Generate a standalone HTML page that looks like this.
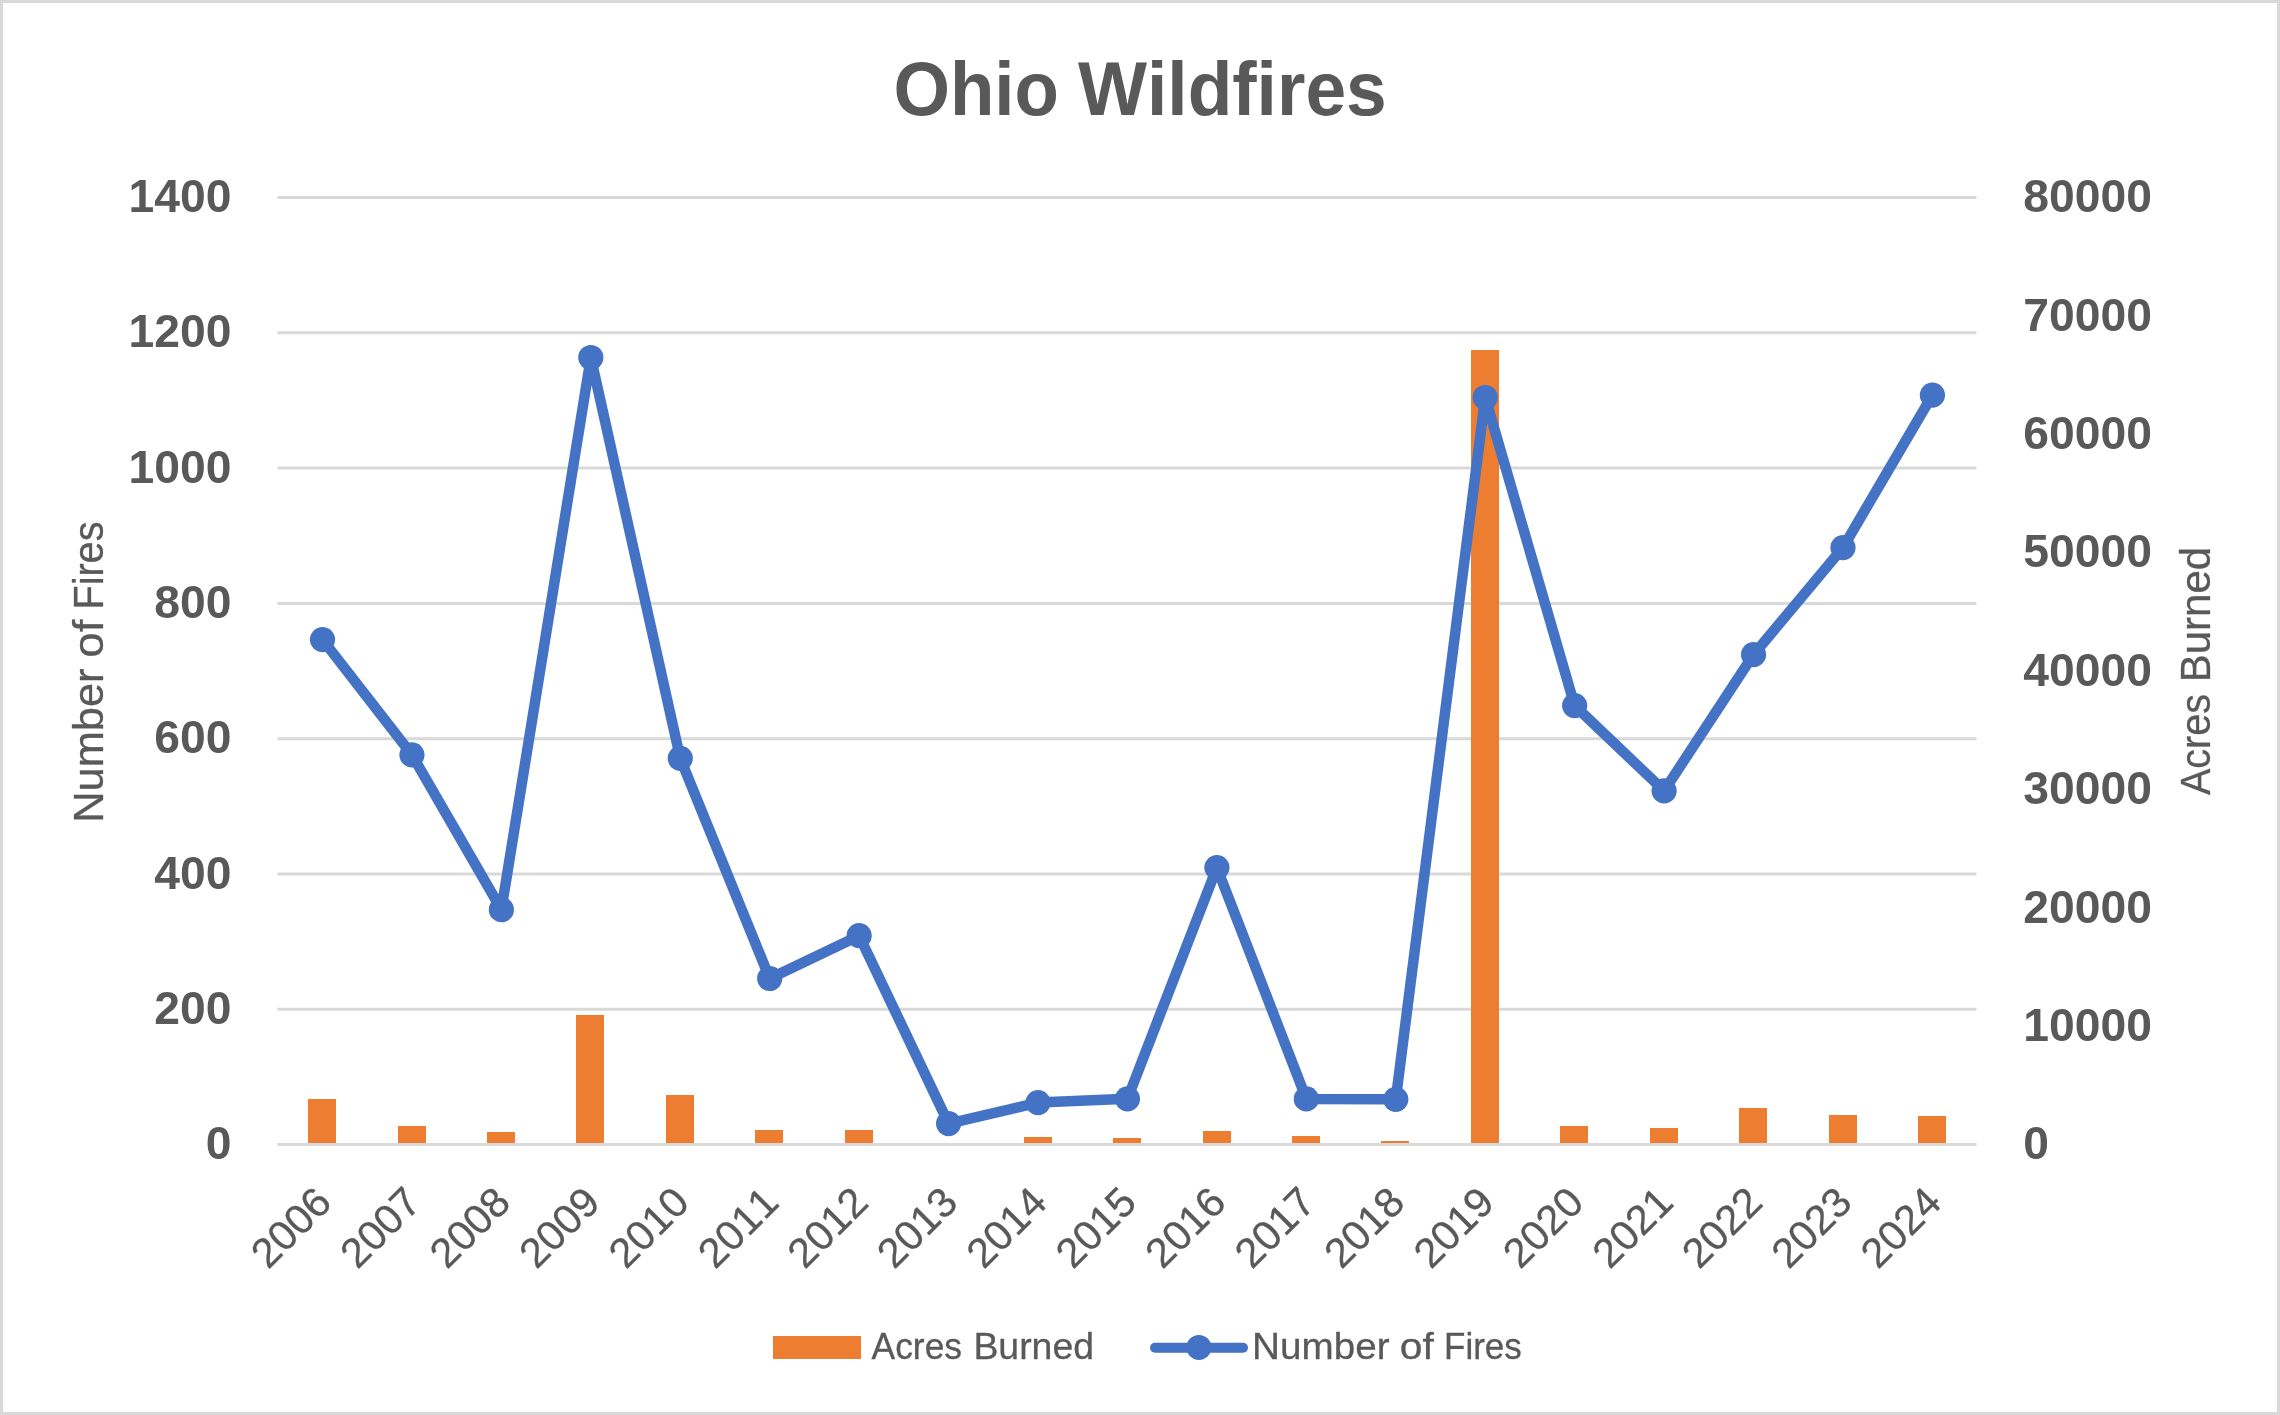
<!DOCTYPE html>
<html lang="en"><head><meta charset="utf-8"><title>Ohio Wildfires</title>
<style>
html,body{margin:0;padding:0;background:#fff;}
body{width:2280px;height:1415px;overflow:hidden;font-family:"Liberation Sans", sans-serif;}
svg{display:block;will-change:transform;}
text{font-family:"Liberation Sans", sans-serif;fill:#595959;font-kerning:none;}
.b{font-weight:bold;stroke:none;}
.r{stroke:#595959;stroke-width:0.3px;stroke-linejoin:round;}
</style></head><body>
<svg width="2280" height="1415" viewBox="0 0 2280 1415" role="img" aria-label="Ohio Wildfires combo chart">
<rect x="0" y="0" width="2280" height="1415" fill="#fff"/>
<rect x="1.5" y="1.5" width="2277" height="1412" fill="none" stroke="#D9D9D9" stroke-width="3"/>
<g stroke="#D9D9D9" stroke-width="3.0">
<line x1="277.5" y1="197.50" x2="1976.5" y2="197.50"/>
<line x1="277.5" y1="332.80" x2="1976.5" y2="332.80"/>
<line x1="277.5" y1="468.10" x2="1976.5" y2="468.10"/>
<line x1="277.5" y1="603.40" x2="1976.5" y2="603.40"/>
<line x1="277.5" y1="738.70" x2="1976.5" y2="738.70"/>
<line x1="277.5" y1="874.00" x2="1976.5" y2="874.00"/>
<line x1="277.5" y1="1009.30" x2="1976.5" y2="1009.30"/>
</g>
<g fill="#ED7D31" shape-rendering="crispEdges">
<rect x="308" y="1099" width="28" height="45.60"/>
<rect x="398" y="1126" width="28" height="18.60"/>
<rect x="487" y="1132" width="28" height="12.60"/>
<rect x="576" y="1015" width="28" height="129.60"/>
<rect x="666" y="1095" width="28" height="49.60"/>
<rect x="755" y="1130" width="28" height="14.60"/>
<rect x="845" y="1130" width="28" height="14.60"/>
<rect x="1024" y="1137" width="28" height="7.60"/>
<rect x="1113" y="1138" width="28" height="6.60"/>
<rect x="1203" y="1131" width="28" height="13.60"/>
<rect x="1292" y="1136" width="28" height="8.60"/>
<rect x="1381" y="1141" width="28" height="3.60"/>
<rect x="1471" y="350" width="28" height="794.60"/>
<rect x="1560" y="1126" width="28" height="18.60"/>
<rect x="1650" y="1128" width="28" height="16.60"/>
<rect x="1739" y="1108" width="28" height="36.60"/>
<rect x="1829" y="1115" width="28" height="29.60"/>
<rect x="1918" y="1116" width="28" height="28.60"/>
</g>
<line x1="277.5" y1="1144.60" x2="1976.5" y2="1144.60" stroke="#D9D9D9" stroke-width="3.0"/>
<polyline points="322.50,639.60 411.94,754.80 501.38,909.70 590.82,357.50 680.26,758.30 769.70,978.50 859.14,935.70 948.58,1123.60 1038.02,1102.60 1127.46,1098.80 1216.90,867.60 1306.34,1098.90 1395.78,1099.30 1485.22,397.50 1574.66,705.60 1664.10,790.80 1753.54,654.60 1842.98,547.60 1932.42,395.10" fill="none" stroke="#4472C4" stroke-width="10.5" stroke-linejoin="round" stroke-linecap="round"/>
<g fill="#4472C4">
<circle cx="322.50" cy="639.60" r="12.6"/>
<circle cx="411.94" cy="754.80" r="12.6"/>
<circle cx="501.38" cy="909.70" r="12.6"/>
<circle cx="590.82" cy="357.50" r="12.6"/>
<circle cx="680.26" cy="758.30" r="12.6"/>
<circle cx="769.70" cy="978.50" r="12.6"/>
<circle cx="859.14" cy="935.70" r="12.6"/>
<circle cx="948.58" cy="1123.60" r="12.6"/>
<circle cx="1038.02" cy="1102.60" r="12.6"/>
<circle cx="1127.46" cy="1098.80" r="12.6"/>
<circle cx="1216.90" cy="867.60" r="12.6"/>
<circle cx="1306.34" cy="1098.90" r="12.6"/>
<circle cx="1395.78" cy="1099.30" r="12.6"/>
<circle cx="1485.22" cy="397.50" r="12.6"/>
<circle cx="1574.66" cy="705.60" r="12.6"/>
<circle cx="1664.10" cy="790.80" r="12.6"/>
<circle cx="1753.54" cy="654.60" r="12.6"/>
<circle cx="1842.98" cy="547.60" r="12.6"/>
<circle cx="1932.42" cy="395.10" r="12.6"/>
</g>
<text class="b" x="893.42" y="114.5" font-size="76.0" textLength="165.42" lengthAdjust="spacingAndGlyphs">Ohio</text>
<text class="b" x="1078.03" y="114.5" font-size="76.0" textLength="308.67" lengthAdjust="spacingAndGlyphs">Wildfires</text>
<g class="b" font-size="45.5" text-anchor="end">
<text x="231.5" y="212.00" textLength="102.9" lengthAdjust="spacingAndGlyphs">1400</text>
<text x="231.5" y="347.30" textLength="102.9" lengthAdjust="spacingAndGlyphs">1200</text>
<text x="231.5" y="482.60" textLength="102.9" lengthAdjust="spacingAndGlyphs">1000</text>
<text x="231.5" y="617.90" textLength="77.18" lengthAdjust="spacingAndGlyphs">800</text>
<text x="231.5" y="753.20" textLength="77.18" lengthAdjust="spacingAndGlyphs">600</text>
<text x="231.5" y="888.50" textLength="77.18" lengthAdjust="spacingAndGlyphs">400</text>
<text x="231.5" y="1023.80" textLength="77.18" lengthAdjust="spacingAndGlyphs">200</text>
<text x="231.5" y="1159.10" textLength="25.73" lengthAdjust="spacingAndGlyphs">0</text>
</g>
<g class="b" font-size="45.5" text-anchor="start">
<text x="2023.3" y="212.30" textLength="128.6" lengthAdjust="spacingAndGlyphs">80000</text>
<text x="2023.3" y="330.69" textLength="128.6" lengthAdjust="spacingAndGlyphs">70000</text>
<text x="2023.3" y="449.08" textLength="128.6" lengthAdjust="spacingAndGlyphs">60000</text>
<text x="2023.3" y="567.46" textLength="128.6" lengthAdjust="spacingAndGlyphs">50000</text>
<text x="2023.3" y="685.85" textLength="128.6" lengthAdjust="spacingAndGlyphs">40000</text>
<text x="2023.3" y="804.24" textLength="128.6" lengthAdjust="spacingAndGlyphs">30000</text>
<text x="2023.3" y="922.62" textLength="128.6" lengthAdjust="spacingAndGlyphs">20000</text>
<text x="2023.3" y="1041.01" textLength="128.6" lengthAdjust="spacingAndGlyphs">10000</text>
<text x="2023.3" y="1159.40" textLength="25.72" lengthAdjust="spacingAndGlyphs">0</text>
</g>
<text class="r" transform="translate(103.3,819.20) rotate(-90)" x="-3.56" y="0" font-size="42.5" textLength="154.28" lengthAdjust="spacingAndGlyphs">Number</text>
<text class="r" transform="translate(103.3,655.90) rotate(-90)" x="-1.93" y="0" font-size="42.5" textLength="38.26" lengthAdjust="spacingAndGlyphs">of</text>
<text class="r" transform="translate(103.3,606.30) rotate(-90)" x="-3.25" y="0" font-size="42.5" textLength="87.98" lengthAdjust="spacingAndGlyphs">Fires</text>
<text class="r" transform="translate(2209.8,795.00) rotate(-90)" x="-0.08" y="0" font-size="42.5" textLength="101.11" lengthAdjust="spacingAndGlyphs">Acres</text>
<text class="r" transform="translate(2209.8,678.90) rotate(-90)" x="-3.45" y="0" font-size="42.5" textLength="135.56" lengthAdjust="spacingAndGlyphs">Burned</text>
<g class="r" font-size="41.5" text-anchor="end">
<text transform="translate(333.70,1204.7) rotate(-45)" textLength="92.7" lengthAdjust="spacingAndGlyphs">2006</text>
<text transform="translate(423.14,1204.7) rotate(-45)" textLength="92.7" lengthAdjust="spacingAndGlyphs">2007</text>
<text transform="translate(512.58,1204.7) rotate(-45)" textLength="92.7" lengthAdjust="spacingAndGlyphs">2008</text>
<text transform="translate(602.02,1204.7) rotate(-45)" textLength="92.7" lengthAdjust="spacingAndGlyphs">2009</text>
<text transform="translate(691.46,1204.7) rotate(-45)" textLength="92.7" lengthAdjust="spacingAndGlyphs">2010</text>
<text transform="translate(780.90,1204.7) rotate(-45)" textLength="92.7" lengthAdjust="spacingAndGlyphs">2011</text>
<text transform="translate(870.34,1204.7) rotate(-45)" textLength="92.7" lengthAdjust="spacingAndGlyphs">2012</text>
<text transform="translate(959.78,1204.7) rotate(-45)" textLength="92.7" lengthAdjust="spacingAndGlyphs">2013</text>
<text transform="translate(1049.22,1204.7) rotate(-45)" textLength="92.7" lengthAdjust="spacingAndGlyphs">2014</text>
<text transform="translate(1138.66,1204.7) rotate(-45)" textLength="92.7" lengthAdjust="spacingAndGlyphs">2015</text>
<text transform="translate(1228.10,1204.7) rotate(-45)" textLength="92.7" lengthAdjust="spacingAndGlyphs">2016</text>
<text transform="translate(1317.54,1204.7) rotate(-45)" textLength="92.7" lengthAdjust="spacingAndGlyphs">2017</text>
<text transform="translate(1406.98,1204.7) rotate(-45)" textLength="92.7" lengthAdjust="spacingAndGlyphs">2018</text>
<text transform="translate(1496.42,1204.7) rotate(-45)" textLength="92.7" lengthAdjust="spacingAndGlyphs">2019</text>
<text transform="translate(1585.86,1204.7) rotate(-45)" textLength="92.7" lengthAdjust="spacingAndGlyphs">2020</text>
<text transform="translate(1675.30,1204.7) rotate(-45)" textLength="92.7" lengthAdjust="spacingAndGlyphs">2021</text>
<text transform="translate(1764.74,1204.7) rotate(-45)" textLength="92.7" lengthAdjust="spacingAndGlyphs">2022</text>
<text transform="translate(1854.18,1204.7) rotate(-45)" textLength="92.7" lengthAdjust="spacingAndGlyphs">2023</text>
<text transform="translate(1943.62,1204.7) rotate(-45)" textLength="92.7" lengthAdjust="spacingAndGlyphs">2024</text>
</g>
<rect x="773" y="1336" width="88" height="23" fill="#ED7D31" shape-rendering="crispEdges"/>
<text class="r" x="871.53" y="1358.7" font-size="37.0" textLength="90.55" lengthAdjust="spacingAndGlyphs">Acres</text>
<text class="r" x="973.43" y="1358.7" font-size="37.0" textLength="120.58" lengthAdjust="spacingAndGlyphs">Burned</text>
<line x1="1155" y1="1347.8" x2="1243" y2="1347.8" stroke="#4472C4" stroke-width="10" stroke-linecap="round"/>
<circle cx="1198.9" cy="1347.4" r="12.5" fill="#4472C4"/>
<text class="r" x="1252.13" y="1358.7" font-size="37.0" textLength="137.41" lengthAdjust="spacingAndGlyphs">Number</text>
<text class="r" x="1399.79" y="1358.7" font-size="37.0" textLength="34.05" lengthAdjust="spacingAndGlyphs">of</text>
<text class="r" x="1444.03" y="1358.7" font-size="37.0" textLength="77.84" lengthAdjust="spacingAndGlyphs">Fires</text>
</svg></body></html>
